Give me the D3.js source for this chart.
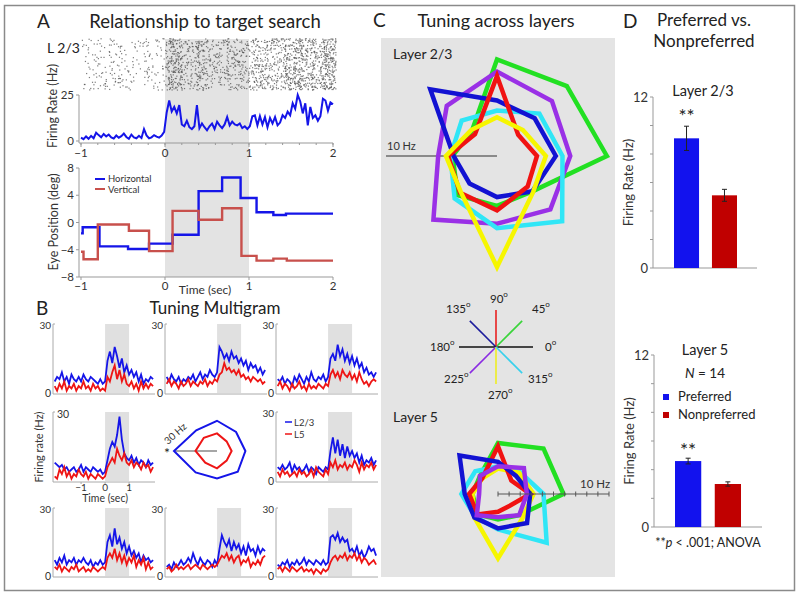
<!DOCTYPE html>
<html><head><meta charset="utf-8">
<script src="https://cdn.jsdelivr.net/npm/d3@7/dist/d3.min.js"></script>
<style>
html,body{margin:0;padding:0;background:#fff;}
svg text{font-family:Lato,'Open Sans','Liberation Sans',sans-serif;}
</style></head><body>
<svg id="fig" width="800" height="596"></svg>
<script>
// ================= DATA =================
// Panel A: firing rate (Hz), samples every 30 ms from -1.00 s to 2.00 s
const rateTimeStart = -1, rateTimeStep = 0.03;
const rateValues = [
1.8,1.0,2.5,1.2,2.8,1.5,4.5,3.2,2.0,3.8,
2.5,3.5,2.0,1.4,3.0,1.8,2.6,4.0,2.2,1.2,
3.5,2.0,1.5,2.8,1.6,6.5,3.0,1.5,2.0,3.2,
2.4,1.8,3.0,5.0,15.5,22.0,16.0,18.5,15.0,19.5,
9.0,8.0,11.0,7.5,6.5,8.0,19.5,7.0,9.5,7.5,
5.8,8.0,9.5,6.5,10.5,8.5,7.0,9.0,13.0,8.5,
10.5,9.0,8.5,9.5,7.0,8.0,6.5,8.0,13.5,14.0,
8.5,13.5,9.0,13.0,7.5,12.5,9.5,13.0,8.5,10.0,
14.0,12.5,16.0,14.0,20.5,17.5,25.0,21.5,15.0,20.5,
8.5,18.5,12.5,14.0,11.0,13.5,23.0,22.0,16.5,21.0,
20.0];
const rasterTrialCount = 42;
// Eye position (deg): [time of step, new value]
const eyeHorizontal = [[-1,-1.6],[-0.98,-0.7],[-0.78,-3.5],[-0.44,-3.9],[-0.19,-3.1],[0.09,-1.8],[0.40,4.6],[0.68,6.6],[0.90,3.6],[1.09,1.5],[1.29,1.1],[1.44,1.3],[2.0,1.3]];
const eyeVertical   = [[-1,-4.3],[-0.97,-5.4],[-0.80,-0.3],[-0.43,-1.2],[-0.19,-4.2],[0.09,1.7],[0.40,0.4],[0.68,2.1],[0.91,-4.9],[1.09,-5.6],[1.29,-5.3],[1.45,-5.6],[2.0,-5.6]];
const rateTicks = [0,25];
const eyeTicks = [-8,-4,0,4,8];
const timeTicks = [-1,0,1,2];

// Panel B: multigram PSTHs (Hz), 100 ms bins from -2.1 s to 2.0 s
const mgTimeStart = -2.1, mgTimeStep = 0.1;
const mgL23_1 = [5,7,6,9,5,7,4,8,6,5,7,5,8,6,5,7,6,5,4,6,4,5, 14,18,13,20,16,11,15,9,12,8,10,7,9,5,8,4,6,5,7,6];
const mgL5_1  = [3,1,4,2,5,1,3,2,4,1,3,2,5,2,3,1,4,2,3,1,2,1, 7,5,9,12,6,10,5,8,4,3,5,2,4,1,5,2,4,2,4,3];
const mgL23_2 = [7,5,8,6,5,7,4,6,5,7,6,8,5,7,9,6,8,7,10,8,7,9, 20,18,15,17,14,18,15,16,13,15,12,14,10,13,11,12,9,11,8,10];
const mgL5_2  = [4,6,3,5,4,2,5,3,4,6,3,5,4,3,5,4,6,3,5,4,6,5, 8,9,13,10,11,9,10,8,10,7,8,6,7,5,7,6,5,6,4,5];
const mgL23_3 = [6,5,7,4,6,5,3,7,5,8,6,4,7,5,9,6,5,7,6,8,5,7, 15,17,14,21,16,19,14,17,13,16,12,15,11,13,9,11,8,9,7,9];
const mgL5_3  = [3,5,2,4,3,1,4,2,3,5,2,3,1,4,2,3,2,4,3,2,4,3, 8,10,7,9,6,10,8,7,9,6,8,5,9,6,4,5,3,5,6,5];
const mgL23_4 = [8,7,6,7,5,6,4,5,6,4,5,7,4,6,5,4,6,5,4,5,3,4, 9,14,17,15,20,28,18,12,10,9,11,8,10,7,9,8,6,9,7,8];
const mgL5_4  = [2,1,5,3,6,2,4,1,3,2,5,3,2,4,1,3,2,1,3,2,1,2, 6,8,10,8,14,11,9,12,8,7,9,6,8,7,5,8,6,7,4,6];
const mgL23_6 = [6,5,7,5,6,8,4,7,5,6,4,5,7,4,6,5,3,6,5,4,6,5, 13,19,12,18,11,16,10,15,11,13,10,12,8,11,7,9,8,10,7,9];
const mgL5_6  = [4,2,5,3,4,2,3,4,2,5,3,4,2,3,5,2,6,4,3,2,5,3, 8,6,9,5,7,6,8,5,7,6,9,7,4,8,5,7,6,8,5,7];
const mgL23_7 = [7,5,8,6,9,5,7,6,8,5,7,6,8,6,5,7,4,6,5,7,5,6, 15,18,13,21,14,17,12,15,10,13,9,11,8,10,6,9,7,8,6,7];
const mgL5_7  = [4,3,5,2,4,3,2,4,3,5,2,3,4,2,3,2,4,3,2,3,4,3, 8,10,8,12,7,10,6,9,5,8,6,9,4,7,5,8,3,6,3,4];
const mgL23_8 = [4,5,3,6,4,5,7,5,6,8,6,10,7,5,8,6,5,7,6,4,7,5, 12,18,15,13,16,11,15,12,14,10,13,9,14,11,12,9,13,10,12,11];
const mgL5_8  = [3,4,2,3,5,3,4,3,4,5,3,4,5,4,3,5,4,3,4,5,4,5, 7,9,8,10,7,9,6,8,9,5,7,6,8,4,6,5,7,5,8,9];
const mgL23_9 = [5,4,6,5,7,4,6,5,7,5,6,8,5,7,6,5,7,6,5,7,5,6, 17,18,16,19,15,17,15,16,11,12,10,13,9,11,8,10,13,11,12,9];
const mgL5_9  = [3,4,2,4,3,2,4,3,2,3,4,2,3,2,3,1,3,2,1,3,2,3, 6,8,9,7,9,8,10,7,9,8,10,7,9,6,8,7,5,6,7,5];
// Multigram centre polar plot (Hz) at 0,45,...,315 deg
const mgPolarL23 = [19.8,18.8,21.1,20.5,30,21.1,19.1,20.5];
const mgPolarL5  = [10.2,9.5,12.3,13.0,15.0,11.6,12.1,9.5];

// Panel C: tuning polygons (Hz) at 0,45,...,315 deg
const directions = [0,45,90,135,180,225,270,315];
const l23Green  = [9.9,8.9,8.7,3.2,4.0,5.0,4.5,4.5];
const l23Purple = [6.6,7.0,7.6,6.4,5.3,8.1,6.1,6.8];
const l23Cyan   = [5.9,5.4,4.1,4.5,4.2,5.4,6.5,8.3];
const l23Blue   = [5.3,4.8,5.0,8.5,3.9,3.5,3.7,4.5];
const l23Red    = [3.6,2.7,7.2,2.8,4.4,4.7,4.9,3.9];
const l23Yellow = [4.4,3.3,3.5,3.3,4.6,4.6,10.0,4.6];
const l5Green   = [5.9,5.8,4.6,2.3,2.3,2.6,2.3,2.7];
const l5Cyan    = [4.1,2.8,2.5,2.9,3.3,2.9,3.2,6.2];
const l5Yellow  = [3.2,2.7,2.3,2.0,2.3,3.0,5.8,3.1];
const l5Red     = [2.9,1.7,4.3,2.0,2.6,2.6,1.6,1.5];
const l5Blue    = [2.9,2.3,2.9,4.9,3.0,3.0,3.1,3.7];
const l5Purple  = [2.6,3.3,2.5,2.3,1.7,2.7,2.1,2.7];

// Panel D: preferred vs nonpreferred (Hz)
const prefCategories = ['Preferred','Nonpreferred'];
const l23Means = [9.1,5.1];
const l23Errors = [0.85,0.42];
const l5Means = [4.6,3.0];
const l5Errors = [0.2,0.15];
const barTicks = [0,2,4,6,8,10,12];

// ================= DRAWING =================
const svg = d3.select('#fig');
const BLUE = '#1515e8', RED = '#ee1515';
function txt(x,y,s,o={}){
  const t = svg.append('text').attr('x',x).attr('y',y).text(s)
    .attr('font-size',o.size||12).attr('fill',o.fill||'#222')
    .attr('text-anchor',o.anchor||'start');
  if(o.rotate!==undefined) t.attr('transform',`rotate(${o.rotate},${x},${y})`);
  if(o.italic) t.attr('font-style','italic');
  return t;
}
function line(x1,y1,x2,y2,c,w){
  return svg.append('line').attr('x1',x1).attr('y1',y1).attr('x2',x2).attr('y2',y2)
    .attr('stroke',c).attr('stroke-width',w);
}
const minus = v => v<0 ? '\u2212'+(-v) : String(v);

// outer frame
svg.append('rect').attr('x',4.5).attr('y',5.5).attr('width',790).attr('height',585)
  .attr('fill','none').attr('stroke','#8a8a8a').attr('stroke-width',1.5);

// ---------- Panel A ----------
txt(37,28,'A',{size:19});
txt(205,28,'Relationship to target search',{size:18.5,anchor:'middle'});
txt(47,53,'L 2/3',{size:14});
const xA = d3.scaleLinear().domain([-1,2]).range([81,333]);
svg.append('rect').attr('x',xA(0)).attr('y',39).attr('width',xA(1)-xA(0)).attr('height',277-39).attr('fill','#e3e3e3');

// raster: spike counts driven by the rate trace, positions jittered (seeded)
const rng = d3.randomLcg(0.4217);
const yTrial = d3.scaleLinear().domain([0,rasterTrialCount]).range([38,90]);
const spikes = [];
for(let j=0;j<rasterTrialCount;j++){
  rateValues.forEach((r,i)=>{
    const p = (r*1.25+2.2)*rateTimeStep/3;
    for(let s=0;s<3;s++){
      if(rng() < p) spikes.push([rateTimeStart + i*rateTimeStep + (s+rng())*rateTimeStep/3, j + rng()*0.6]);
    }
  });
}
svg.append('g').selectAll('rect').data(spikes).join('rect')
  .attr('x',d=>xA(d[0])).attr('y',d=>yTrial(d[1])).attr('width',1.2).attr('height',1.2)
  .attr('fill','#444').attr('opacity',0.7);

// firing rate
const yRate = d3.scaleLinear().domain([0,25]).range([141,95]);
line(79,95,79,143,'#999',1);
line(79,143,333,143,'#999',1);
rateTicks.forEach(v=>{ line(76,yRate(v),79,yRate(v),'#999',1); txt(74,yRate(v)+4,String(v),{size:11.5,anchor:'end',fill:'#333'}); });
d3.range(-1,2.01,0.2).forEach(v=>line(xA(v),143,xA(v),145,'#999',1));
timeTicks.forEach(v=>{ line(xA(v),143,xA(v),147,'#999',1); txt(xA(v),157,minus(v),{size:11.5,anchor:'middle',fill:'#333'}); });
svg.append('path').datum(rateValues)
  .attr('d',d3.line().x((d,i)=>xA(rateTimeStart+i*rateTimeStep)).y(d=>yRate(d)))
  .attr('fill','none').attr('stroke',BLUE).attr('stroke-width',2);
txt(57,106,'Firing Rate (Hz)',{size:12.5,anchor:'middle',rotate:-90,fill:'#333'});

// eye position
const yEye = d3.scaleLinear().domain([-8,8]).range([277,168]);
line(79,168,79,277,'#999',1);
line(79,277,333,277,'#999',1);
eyeTicks.forEach(v=>{ line(76,yEye(v),79,yEye(v),'#999',1); txt(74,yEye(v)+4,minus(v),{size:11.5,anchor:'end',fill:'#333'}); });
timeTicks.forEach(v=>{ line(xA(v),277,xA(v),280,'#999',1); txt(xA(v),290,minus(v),{size:11.5,anchor:'middle',fill:'#333'}); });
const eyeLine = d3.line().x(d=>xA(d[0])).y(d=>yEye(d[1])).curve(d3.curveStepAfter);
svg.append('path').datum(eyeHorizontal).attr('d',eyeLine).attr('fill','none').attr('stroke',BLUE).attr('stroke-width',2.4);
svg.append('path').datum(eyeVertical).attr('d',eyeLine).attr('fill','none').attr('stroke','#c8504c').attr('stroke-width',2.4);
line(95,179,105,179,BLUE,2); txt(108,182,'Horizontal',{size:9.5,fill:'#333'});
line(95,189,105,189,'#c8504c',2); txt(108,192.5,'Vertical',{size:9.5,fill:'#333'});
txt(58,222,'Eye Position (deg)',{size:12.5,anchor:'middle',rotate:-90,fill:'#333'});
txt(205,293.5,'Time (sec)',{size:12,anchor:'middle',fill:'#333'});

// ---------- Panel B ----------
txt(36,315,'B',{size:19});
txt(215,314,'Tuning Multigram',{size:17,anchor:'middle'});
const mgBlue = [mgL23_1,mgL23_2,mgL23_3,mgL23_4,null,mgL23_6,mgL23_7,mgL23_8,mgL23_9];
const mgRed  = [mgL5_1,mgL5_2,mgL5_3,mgL5_4,null,mgL5_6,mgL5_7,mgL5_8,mgL5_9];
const colX = [53,165,276];
const rowY = [[324,393],[412,481],[508,576]];
mgBlue.forEach((blue,k)=>{
  if(!blue) return;
  const a = colX[k%3], ry = rowY[Math.floor(k/3)];
  const x = d3.scaleLinear().domain([-2.17,2.08]).range([a,a+102]);
  const y = d3.scaleLinear().domain([0,30]).range([ry[1],ry[0]]);
  svg.append('rect').attr('x',x(0)).attr('y',y(30)).attr('width',x(1)-x(0)).attr('height',y(0)-y(30)).attr('fill','#e0e0e0');
  line(a,y(30),a,y(0)+1,'#aaa',1);
  line(a,y(0)+1,a+102,y(0)+1,'#aaa',1);
  line(a,y(30),a+2,y(30),'#aaa',1);
  if(k===3) txt(a+4,y(30)+6,'30',{size:10.5,fill:'#333'});
  else txt(a-2,y(30)+4.5,'30',{size:10,anchor:'end',fill:'#333'});
  if(k!==3) txt(a-2,y(0)+4,'0',{size:10.5,anchor:'end',fill:'#333'});
  const ln = d3.line().x((d,i)=>x(mgTimeStart+i*mgTimeStep)).y(d=>y(d));
  svg.append('path').datum(blue).attr('d',ln).attr('fill','none').attr('stroke',BLUE).attr('stroke-width',1.8);
  svg.append('path').datum(mgRed[k]).attr('d',ln).attr('fill','none').attr('stroke',RED).attr('stroke-width',1.8);
  if(k===3){
    [-1,0,1].forEach(v=>{ line(x(v),y(0)+1,x(v),y(0)+3,'#aaa',1); txt(x(v),y(0)+10,minus(v),{size:10,anchor:'middle',fill:'#333'}); });
    txt(x(0),y(0)+21,'Time (sec)',{size:10.5,anchor:'middle',fill:'#333'});
  }
});
txt(43,447,'Firing rate (Hz)',{size:11,anchor:'middle',rotate:-90,fill:'#333'});
// legend
line(285,422,292,422,BLUE,1.5); txt(294,425.5,'L2/3',{size:9.5,fill:'#333'});
line(285,434,292,434,RED,1.5); txt(294,437.5,'L5',{size:9.5,fill:'#333'});
// centre polar
const rMg = d3.scaleLinear().domain([0,30]).range([0,43]);
const radialMg = d3.lineRadial().angle((d,i)=>(90-directions[i])*Math.PI/180).radius(d=>rMg(d)).curve(d3.curveLinearClosed);
const gMg = svg.append('g').attr('transform','translate(217,451)');
gMg.append('line').attr('x1',-rMg(30)).attr('x2',0).attr('y1',0).attr('y2',0).attr('stroke','#888').attr('stroke-width',1.5);
gMg.append('path').datum(mgPolarL23).attr('d',radialMg).attr('fill','none').attr('stroke',BLUE).attr('stroke-width',2);
gMg.append('path').datum(mgPolarL5).attr('d',radialMg).attr('fill','none').attr('stroke',RED).attr('stroke-width',2);
txt(167,458,'*',{size:14,anchor:'middle',fill:'#222'});
txt(168,445,'30 Hz',{size:10,rotate:-42,fill:'#333'});

// ---------- Panel C ----------
txt(373,27,'C',{size:19});
txt(496,27,'Tuning across layers',{size:18,anchor:'middle'});
svg.append('rect').attr('x',381).attr('y',38).attr('width',234).attr('height',539).attr('fill','#e4e4e4');
txt(393,59,'Layer 2/3',{size:14});
const rC = d3.scaleLinear().domain([0,10]).range([0,111]);
const radialC = d3.lineRadial().angle((d,i)=>(90-directions[i])*Math.PI/180).radius(d=>rC(d)).curve(d3.curveLinearClosed);
const gL23 = svg.append('g').attr('transform','translate(497,156)');
gL23.append('line').attr('x1',-rC(10)).attr('x2',0).attr('y1',0).attr('y2',0).attr('stroke','#8a8a8a').attr('stroke-width',2);
txt(387,150,'10 Hz',{size:11,fill:'#333'});
const cGreen='#22e022', cPurple='#9a30e6', cCyan='#30e6f6', cBlue='#1212d2', cRed='#f01212', cYellow='#f6f600';
[[l23Green,cGreen],[l23Purple,cPurple],[l23Cyan,cCyan],[l23Blue,cBlue],[l23Red,cRed],[l23Yellow,cYellow]].forEach(([d,c])=>{
  gL23.append('path').datum(d).attr('d',radialC).attr('fill','none').attr('stroke',c).attr('stroke-width',4.5)
    .attr('stroke-linejoin','miter').attr('stroke-miterlimit',3);
});
// direction key
const keyColors = ['#111','#3ad43a','#e82020','#1c1c9c','#111','#8a2be2','#eeee22','#38d0ec'];
const rKey = d3.scaleLinear().domain([0,1]).range([0,37]);
const gKey = svg.append('g').attr('transform','translate(496,347)');
directions.forEach((a,i)=>{
  const t = a*Math.PI/180;
  gKey.append('line').attr('x1',0).attr('y1',0).attr('x2',rKey(1)*Math.cos(t)).attr('y2',-rKey(1)*Math.sin(t))
    .attr('stroke',keyColors[i]).attr('stroke-width',1.6);
});
const keyLabelPos = [[545,351],[532,313],[490,303],[446,313],[430,351],[444,383],[488,399],[528,383]];
directions.forEach((a,i)=>{
  const t = txt(keyLabelPos[i][0],keyLabelPos[i][1],String(a),{size:11.5,fill:'#222'});
  t.append('tspan').attr('dy',-6).attr('font-size',8).text('o');
});
txt(393,422,'Layer 5',{size:14});
const gL5 = svg.append('g').attr('transform','translate(498,494)');
[[l5Green,cGreen],[l5Cyan,cCyan],[l5Yellow,cYellow],[l5Red,cRed],[l5Blue,cBlue],[l5Purple,cPurple]].forEach(([d,c])=>{
  gL5.append('path').datum(d).attr('d',radialC).attr('fill','none').attr('stroke',c).attr('stroke-width',4.5)
    .attr('stroke-linejoin','miter').attr('stroke-miterlimit',3);
});
gL5.append('line').attr('x1',0).attr('x2',rC(10)).attr('y1',0).attr('y2',0).attr('stroke','#555').attr('stroke-width',1);
d3.range(0,11).forEach(v=>gL5.append('line').attr('x1',rC(v)).attr('x2',rC(v)).attr('y1',-2.5).attr('y2',2.5).attr('stroke','#555').attr('stroke-width',1));
txt(580,488,'10 Hz',{size:11.5,fill:'#333'});

// ---------- Panel D ----------
txt(623,28,'D',{size:19});
txt(704,26,'Preferred vs.',{size:17,anchor:'middle'});
txt(704,47,'Nonpreferred',{size:17,anchor:'middle'});
function barChart(means, errs, yTop, yBot, axisX, axisEnd, bandRange){
  const y = d3.scaleLinear().domain([0,12]).range([yBot,yTop]);
  const x = d3.scaleBand().domain(prefCategories).range(bandRange).paddingInner(0.34).paddingOuter(0);
  line(axisX,yTop,axisX,yBot,'#999',1);
  line(axisX,yBot,axisEnd,yBot,'#999',1);
  barTicks.forEach(v=>line(axisX-3,y(v),axisX,y(v),'#999',1));
  txt(axisX-5,y(12)+5,'12',{size:13,anchor:'end',fill:'#333'});
  txt(axisX-5,y(0)+5,'0',{size:13,anchor:'end',fill:'#333'});
  const cols = ['#1212ee','#c00000'];
  prefCategories.forEach((c,i)=>{
    svg.append('rect').attr('x',x(c)).attr('y',y(means[i])).attr('width',x.bandwidth()).attr('height',y(0)-y(means[i])).attr('fill',cols[i]);
    const cx = x(c)+x.bandwidth()/2;
    line(cx,y(means[i]+errs[i]),cx,y(means[i]-errs[i]),'#222',1);
    line(cx-2.5,y(means[i]+errs[i]),cx+2.5,y(means[i]+errs[i]),'#222',1);
    line(cx-2.5,y(means[i]-errs[i]),cx+2.5,y(means[i]-errs[i]),'#222',1);
  });
  txt(axisX-20,(yTop+yBot)/2,'Firing Rate (Hz)',{size:13,anchor:'middle',rotate:-90,fill:'#333'});
  return {x,y};
}
txt(703,96,'Layer 2/3',{size:14.5,anchor:'middle'});
const chartTop = barChart(l23Means, l23Errors, 97, 268, 653, 757, [674,737]);
txt(chartTop.x('Preferred')+chartTop.x.bandwidth()/2, chartTop.y(l23Means[0]+l23Errors[0])-3,'**',{size:19,anchor:'middle'});
txt(705,355,'Layer 5',{size:14.5,anchor:'middle'});
const chartBot = barChart(l5Means, l5Errors, 355, 527, 654, 762, [675,741]);
txt(chartBot.x('Preferred')+chartBot.x.bandwidth()/2, chartBot.y(l5Means[0]+l5Errors[0])-1,'**',{size:19,anchor:'middle'});
const nt = txt(705,378,'',{size:13.5,anchor:'middle'});
nt.append('tspan').attr('font-style','italic').text('N');
nt.append('tspan').text(' = 14');
svg.append('rect').attr('x',663).attr('y',394).attr('width',6).attr('height',6).attr('fill','#1212ee');
txt(678,401,'Preferred',{size:13});
svg.append('rect').attr('x',663).attr('y',412).attr('width',6).attr('height',6).attr('fill','#c00000');
txt(678,419,'Nonpreferred',{size:13});
const pt = txt(708,547,'',{size:12.5,anchor:'middle'});
pt.append('tspan').text('**');
pt.append('tspan').attr('font-style','italic').text('p');
pt.append('tspan').text(' < .001; ANOVA');
</script></body></html>
